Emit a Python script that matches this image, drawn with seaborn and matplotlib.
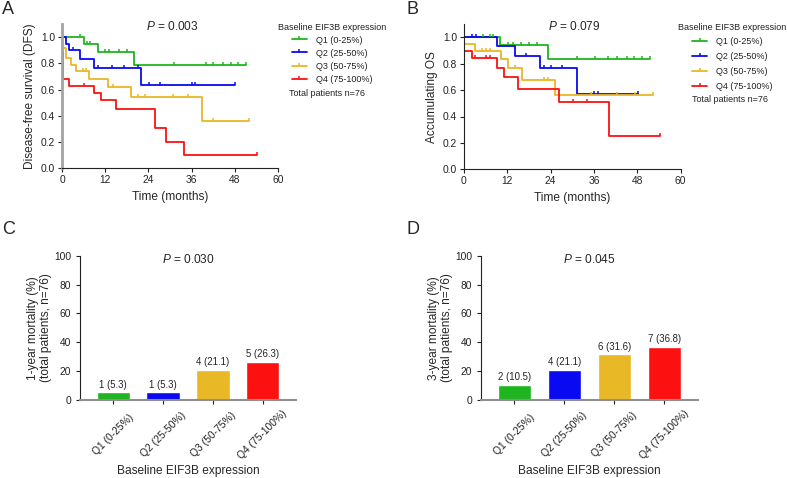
import numpy as np
import pandas as pd
import matplotlib
matplotlib.use("Agg")
import matplotlib.pyplot as plt
from matplotlib.lines import Line2D
import seaborn as sns

sns.set_style("ticks")
plt.rcParams['font.family'] = ['Liberation Sans', 'DejaVu Sans']
plt.rcParams['mathtext.fontset'] = 'custom'
plt.rcParams['mathtext.it'] = 'Liberation Sans:italic'
plt.rcParams['mathtext.rm'] = 'Liberation Sans'

groups = ["Q1 (0-25%)", "Q2 (25-50%)", "Q3 (50-75%)", "Q4 (75-100%)"]
colors = ["#1fb51f", "#0a0af2", "#e8b826", "#fc1010"]

# Panel A: disease-free survival (step times, level after each step, censor times)
dfs_q1_times = [6.2, 9.9, 19.9]
dfs_q1_surv = [0.947, 0.886, 0.784]
dfs_q1_cens = [5.0, 6.9, 7.9, 12.0, 13.1, 15.8, 18.0, 31.0, 40.0, 42.0, 44.8, 46.9, 49.0, 51.1]

dfs_q2_times = [1.1, 2.0, 4.9, 9.0, 22.0]
dfs_q2_surv = [0.950, 0.900, 0.832, 0.764, 0.634]
dfs_q2_cens = [3.0, 9.9, 14.0, 17.1, 21.1, 24.1, 27.1, 36.0, 36.9, 48.1]

dfs_q3_times = [0.0, 1.1, 2.6, 4.0, 7.6, 12.8, 19.1, 38.9]
dfs_q3_surv = [0.918, 0.842, 0.789, 0.740, 0.682, 0.618, 0.540, 0.361]
dfs_q3_cens = [5.9, 6.8, 14.1, 21.1, 23.1, 30.9, 35.1, 42.0, 52.0]

dfs_q4_times = [0.0, 0.3, 1.9, 9.0, 10.9, 14.9, 25.9, 28.9, 33.9]
dfs_q4_surv = [0.889, 0.684, 0.628, 0.575, 0.518, 0.454, 0.305, 0.203, 0.102]
dfs_q4_cens = [6.1, 54.1]

# Panel B: overall survival
os_q1_times = [10.1, 23.3]
os_q1_surv = [0.944, 0.833]
os_q1_cens = [5.2, 7.1, 8.1, 12.3, 13.5, 15.7, 18.1, 20.1, 31.2, 36.3, 40.0, 42.3, 45.1, 47.2, 49.4, 51.5]

os_q2_times = [9.2, 14.1, 21.1, 31.3]
os_q2_surv = [0.934, 0.857, 0.764, 0.569]
os_q2_cens = [2.1, 3.2, 17.2, 22.2, 24.2, 27.2, 36.1, 37.2, 48.1]

os_q3_times = [0.0, 3.1, 10.3, 12.3, 16.2, 25.2]
os_q3_surv = [0.947, 0.896, 0.832, 0.765, 0.680, 0.564]
os_q3_cens = [4.9, 6.1, 7.1, 14.1, 22.2, 23.4, 35.1, 42.3, 47.4, 52.3]

os_q4_times = [0.0, 2.1, 9.1, 11.1, 15.1, 26.2, 40.2]
os_q4_surv = [0.899, 0.840, 0.770, 0.698, 0.611, 0.508, 0.255]
os_q4_cens = [3.0, 6.1, 7.1, 30.3, 34.2, 54.3]

# Panels C, D: mortality by quartile
mort1_pct = [5.3, 5.3, 21.1, 26.3]
mort1_n = [1, 1, 4, 5]
mort3_pct = [10.5, 21.1, 31.6, 36.8]
mort3_n = [2, 4, 6, 7]

W, H = 787, 478
fig = plt.figure(figsize=(W / 100, H / 100), dpi=100)


def px_rect(l, t, r, b):
    return [l / W, 1 - b / H, (r - l) / W, (b - t) / H]


tick_marker = [(0, 0), (0, 1)]


def km_frame(curves):
    rows = []
    cens_rows = []
    for g, (times, surv, cens) in zip(groups, curves):
        end = max(cens)
        xs = [0.0] + list(times) + [end]
        ys = [1.0] + list(surv) + [surv[-1]]
        rows += [(g, x, y) for x, y in zip(xs, ys)]
        steps_t = np.array([0.0] + list(times))
        steps_s = np.array([1.0] + list(surv))
        for c in cens:
            idx = np.searchsorted(steps_t, c, side="right") - 1
            cens_rows.append((g, c, steps_s[idx]))
    return (pd.DataFrame(rows, columns=["group", "t", "s"]),
            pd.DataFrame(cens_rows, columns=["group", "t", "s"]))


def draw_km(ax, curves, ylabel, ptext):
    lines, cens = km_frame(curves)
    sns.lineplot(data=lines, x="t", y="s", hue="group", palette=colors,
                 hue_order=groups, sort=False, estimator=None,
                 drawstyle="steps-post", linewidth=1.3, legend=False, ax=ax)
    for g, c in zip(groups, colors):
        sub = cens[cens.group == g]
        sns.scatterplot(x=sub.t, y=sub.s, marker=tick_marker, s=22,
                        color=c, edgecolor=c, linewidth=1.1, ax=ax, zorder=3)
    ax.set_xlim(0, 60)
    ax.set_ylim(0, 1.1)
    ax.set_xticks([0, 12, 24, 36, 48, 60])
    ax.set_yticks([0, 0.2, 0.4, 0.6, 0.8, 1.0])
    ax.set_yticklabels(["0.0", "0.2", "0.4", "0.6", "0.8", "1.0"])
    ax.set_xlabel("Time (months)", fontsize=8.6)
    ax.set_ylabel(ylabel, fontsize=8.6)
    ax.xaxis.label.set_va("center")
    ax.xaxis.set_label_coords(0.5, -0.2)
    ax.yaxis.label.set_va("center")
    ax.yaxis.set_label_coords(-0.148, 0.5)
    ax.text(0.51, 0.985, ptext, transform=ax.transAxes, ha="center",
            va="center", fontsize=8.6)
    ax.tick_params(labelsize=7.4, length=3, width=0.8, pad=2, colors="#222222")
    for sp in ["top", "right"]:
        ax.spines[sp].set_visible(False)
    ax.spines["bottom"].set_color("#222222")
    ax.spines["bottom"].set_linewidth(0.8)
    ax.spines["left"].set_color("#222222")
    ax.spines["left"].set_linewidth(0.8)


def draw_legend(ax, left, top, spacing, total_xy):
    handles = [Line2D([0], [0], color=c, lw=1.3, marker=tick_marker,
                      markersize=4.5, markeredgewidth=1.1) for c in colors]
    leg = ax.legend(handles, groups, title="Baseline EIF3B expression",
                    loc="upper left", bbox_to_anchor=(left / W, 1 - top / H),
                    bbox_transform=fig.transFigure, frameon=False,
                    fontsize=6.5, title_fontsize=6.5, borderpad=0,
                    borderaxespad=0, handlelength=1.7, handletextpad=0.95,
                    labelspacing=spacing)
    for t in leg.get_texts():
        t.set_color("#222222")
    leg.get_title().set_color("#222222")
    fig.text(total_xy[0] / W, 1 - total_xy[1] / H, "Total patients n=76",
             fontsize=6.5, ha="left", va="center", color="#222222")


def draw_bars(ax, pct, counts, ylabel, ptext):
    df = pd.DataFrame({"group": groups, "pct": pct})
    sns.barplot(data=df, x="group", y="pct", hue="group", palette=colors,
                hue_order=groups, saturation=1, width=0.67, legend=False, ax=ax)
    for cont, n, p in zip(ax.containers, counts, pct):
        ax.bar_label(cont, labels=[f"{n} ({p})"], padding=2, fontsize=6.9,
                     color="#222222")
    ax.set_xlim(-0.67, 3.67)
    ax.set_ylim(0, 100)
    ax.set_yticks([0, 20, 40, 60, 80, 100])
    ax.set_xticks(range(4))
    ax.set_xticklabels(groups, rotation=45, ha="center", va="center",
                       rotation_mode="anchor")
    ax.tick_params(labelsize=7.4, length=3, width=0.8, colors="#222222")
    ax.tick_params(axis="x", pad=22)
    ax.set_xlabel("Baseline EIF3B expression", fontsize=8.6)
    ax.xaxis.label.set_va("center")
    ax.xaxis.set_label_coords(0.5, -0.49)
    ax.set_ylabel(ylabel, fontsize=8.6, linespacing=1.15)
    ax.yaxis.label.set_va("center")
    ax.yaxis.set_label_coords(-0.187, 0.5)
    ax.text(0.5, 0.977, ptext, transform=ax.transAxes, ha="center",
            va="center", fontsize=8.6)
    for sp in ["top", "right"]:
        ax.spines[sp].set_visible(False)
    ax.spines["left"].set_color("#222222")
    ax.spines["left"].set_linewidth(0.8)
    ax.spines["bottom"].set_color("#8f8f8f")
    ax.spines["bottom"].set_linewidth(1.5)


# A
axA = fig.add_axes(px_rect(62, 24, 278, 168.3))
draw_km(axA, [(dfs_q1_times, dfs_q1_surv, dfs_q1_cens),
              (dfs_q2_times, dfs_q2_surv, dfs_q2_cens),
              (dfs_q3_times, dfs_q3_surv, dfs_q3_cens),
              (dfs_q4_times, dfs_q4_surv, dfs_q4_cens)],
        "Disease-free survival (DFS)", r"$\it{P}$ = 0.003")
axA.spines["left"].set_color("#a3a3a3")
axA.spines["left"].set_linewidth(2.0)
draw_legend(axA, 277.7, 22.5, 0.45, (289, 93))

# B
axB = fig.add_axes(px_rect(464, 24.1, 680.5, 169.3))
draw_km(axB, [(os_q1_times, os_q1_surv, os_q1_cens),
              (os_q2_times, os_q2_surv, os_q2_cens),
              (os_q3_times, os_q3_surv, os_q3_cens),
              (os_q4_times, os_q4_surv, os_q4_cens)],
        "Accumulating OS", r"$\it{P}$ = 0.079")
draw_legend(axB, 678, 22.5, 0.65, (692, 100))

# C, D
axC = fig.add_axes(px_rect(80, 255.7, 296, 400))
draw_bars(axC, mort1_pct, mort1_n,
          "1-year mortality (%)\n(total patients, n=76)", r"$\it{P}$ = 0.030")
axD = fig.add_axes(px_rect(481, 255.7, 697.7, 400))
draw_bars(axD, mort3_pct, mort3_n,
          "3-year mortality (%)\n(total patients, n=76)", r"$\it{P}$ = 0.045")

for letter, x, y in [("A", 8, 9), ("B", 412, 9), ("C", 8.5, 230), ("D", 413, 230)]:
    fig.text(x / W, 1 - y / H, letter, fontsize=13, ha="center", va="center")

fig.savefig("out.png", dpi=100)
